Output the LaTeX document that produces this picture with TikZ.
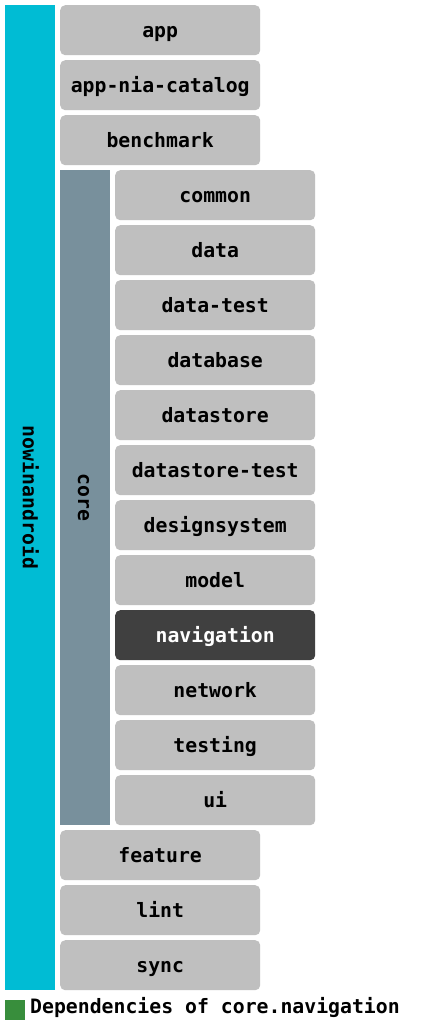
\documentclass[tikz,border=0pt]{standalone}
\usepackage{fontspec}
\setmonofont{DejaVu Sans Mono}
\begin{document}
\begin{tikzpicture}[x=1pt,y=-1pt,
  lbl/.style={font=\ttfamily\bfseries\fontsize{19.8}{22}\selectfont,text height=14pt,text depth=0pt},
  mod/.style={lbl,fill=modgray,rounded corners=5pt,minimum width=200pt,minimum height=50pt,inner sep=0pt,anchor=north west,text=black},
  sel/.style={mod,fill=navdark,text=white},
  bar/.style={lbl,inner sep=0pt,anchor=north west,minimum width=50pt}]
\definecolor{modgray}{HTML}{BFBFBF}
\definecolor{navdark}{HTML}{404040}
\definecolor{cyanbar}{HTML}{00BCD4}
\definecolor{corebar}{HTML}{78909C}
\definecolor{legendgreen}{HTML}{388E3C}
\useasboundingbox[fill=white] (0,0) rectangle (430,1026);
% groups
\fill[cyanbar] (5,5) rectangle (55,990);
\node[lbl,rotate=-90,inner sep=0pt] (nia) at (30,497.5) {nowinandroid};
\fill[corebar] (60,170) rectangle (110,825);
\node[lbl,rotate=-90,inner sep=0pt] (core) at (85,497.5) {core};
% top-level modules
\node[mod] (app) at (60,5) {app};
\node[mod] (catalog) at (60,60) {app-nia-catalog};
\node[mod] (bench) at (60,115) {benchmark};
% core modules
\node[mod] (common) at (115,170) {common};
\node[mod] (data) at (115,225) {data};
\node[mod] (datatest) at (115,280) {data-test};
\node[mod] (database) at (115,335) {database};
\node[mod] (datastore) at (115,390) {datastore};
\node[mod] (dstest) at (115,445) {datastore-test};
\node[mod] (design) at (115,500) {designsystem};
\node[mod] (model) at (115,555) {model};
\node[sel] (nav) at (115,610) {navigation};
\node[mod] (network) at (115,665) {network};
\node[mod] (testing) at (115,720) {testing};
\node[mod] (ui) at (115,775) {ui};
% remaining top-level
\node[mod] (feature) at (60,830) {feature};
\node[mod] (lint) at (60,885) {lint};
\node[mod] (sync) at (60,940) {sync};
% legend
\fill[legendgreen] (5,1000) rectangle (25,1020);
\node[lbl,anchor=base west,inner sep=0pt] (legend) at (30,1013) {Dependencies of core.navigation};
\end{tikzpicture}
\end{document}
